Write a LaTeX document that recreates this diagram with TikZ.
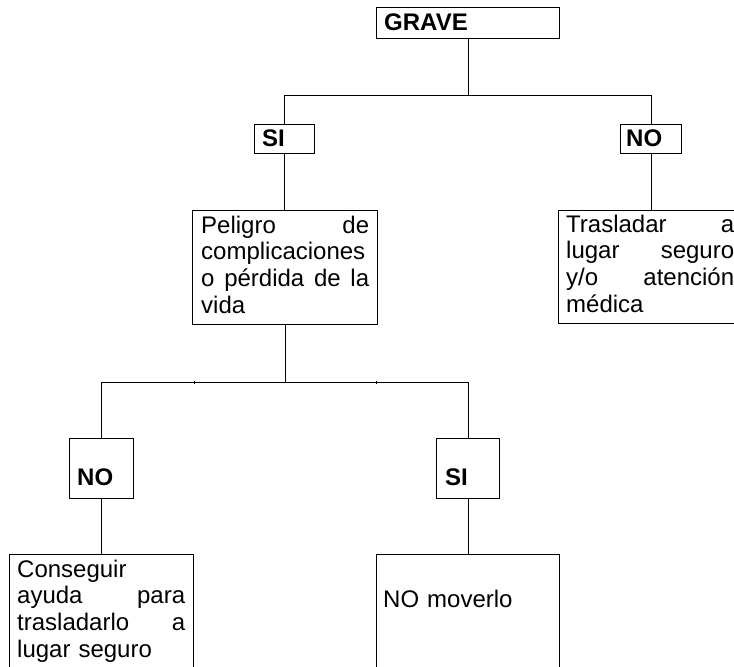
\documentclass[tikz,border=0pt]{standalone}
\usepackage{fontspec}
\setmainfont{Liberation Sans}
\newcommand{\jl}[1]{\leavevmode\hbox to \linewidth{#1}}
\begin{document}
\begin{tikzpicture}[x=1pt,y=-1pt,
  every node/.style={font=\fontsize{24}{26.7}\selectfont},
  box/.style={draw, line width=1.2pt, rectangle, inner sep=0pt, anchor=north west},
  txt/.style={inner sep=0pt, anchor=base west, text width=168pt},
  lbl/.style={inner sep=0pt, anchor=base west, font=\fontsize{24}{26.7}\selectfont\bfseries},
  conn/.style={line width=1.2pt}]
\clip (0,0) rectangle (734,667);
\useasboundingbox (0,0) rectangle (734,667);
% boxes
\node[box, minimum width=183pt, minimum height=31pt] (grave) at (376,7) {};
\node[box, minimum width=60pt, minimum height=29pt] (si1) at (254,124) {};
\node[box, minimum width=61pt, minimum height=29pt] (no1) at (620,124) {};
\node[box, minimum width=185pt, minimum height=114pt] (pel) at (192,210) {};
\node[box, minimum width=185pt, minimum height=113pt] (tras) at (558,210) {};
\node[box, minimum width=64pt, minimum height=60pt] (no2) at (69,438) {};
\node[box, minimum width=63pt, minimum height=60pt] (si2) at (436,438) {};
\node[box, minimum width=184pt, minimum height=150pt] (cons) at (9,554) {};
\node[box, minimum width=183pt, minimum height=150pt] (mov) at (376,554) {};
% texts
\node[lbl] (gravet) at ([shift={(8,23)}]grave.north west) {GRAVE};
\node[lbl] (si1t) at ([shift={(8,22)}]si1.north west) {SI};
\node[lbl] (no1t) at ([shift={(6,22)}]no1.north west) {NO};
\node[lbl] (no2t) at ([shift={(8,47)}]no2.north west) {NO};
\node[lbl] (si2t) at ([shift={(9,47)}]si2.north west) {SI};
\node[txt] (pelt) at ([shift={(9,23)}]pel.north west)
  {\jl{Peligro\hfill de}\\complicaciones\\\jl{o\hfill pérdida\hfill de\hfill la}\\vida};
\node[txt] (trast) at ([shift={(8,22)}]tras.north west)
  {\jl{Trasladar\hfill a}\\\jl{lugar\hfill seguro}\\\jl{y/o\hfill atención}\\médica};
\node[txt] (const) at ([shift={(8,23)}]cons.north west)
  {Conseguir\\\jl{ayuda\hfill para}\\\jl{trasladarlo\hfill a}\\lugar seguro};
\node[txt] (movt) at ([shift={(7,53)}]mov.north west) {NO moverlo};
% connectors
\draw[conn] (grave.south) -- ++(0,56) coordinate (j1);
\draw[conn] (si1.north) |- (j1) -| (no1.north);
\draw[conn] (si1.south) -- (si1.south |- pel.north);
\draw[conn] (no1.south) -- (no1.south |- tras.north);
\draw[conn] (pel.south) -- ++(0,57) coordinate (j2);
\draw[conn] (no2.north) |- (j2) -| (si2.north);
\draw[conn] (no2.south) -- (no2.south |- cons.north);
\draw[conn] (si2.south) -- (si2.south |- mov.north);
% small ticks on the lower bar
\coordinate (t1) at (194,381);
\coordinate (t2) at (376,381);
\draw[line width=1pt] (t1) -- ++(0,3);
\draw[line width=1pt] (t2) -- ++(0,3);
\end{tikzpicture}
\end{document}
